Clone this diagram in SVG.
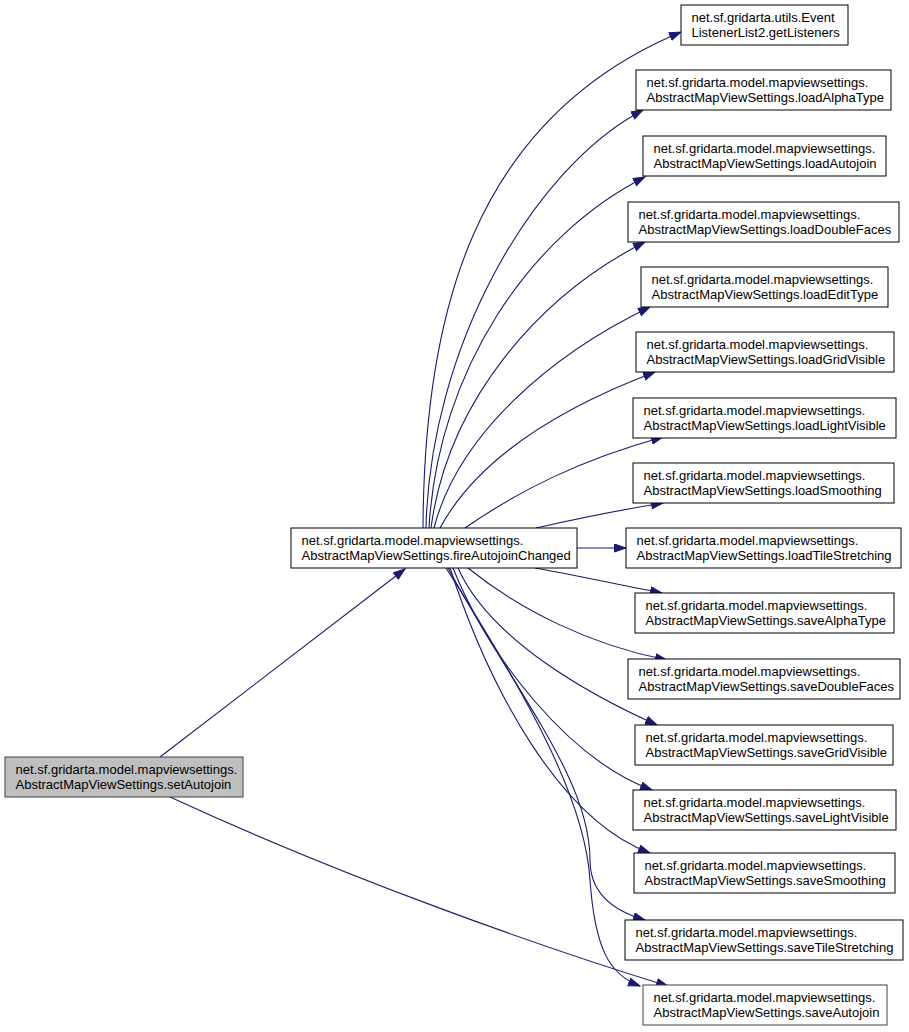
<svg xmlns="http://www.w3.org/2000/svg" width="909" height="1032" viewBox="0 0 909 1032">
<style>
.n rect{fill:#ffffff;stroke:#000000;stroke-width:1}
.n text{font-family:"Liberation Sans",Arial,Helvetica,sans-serif;font-size:13px;fill:#000000}
.root rect{fill:#bfbfbf;stroke:#404040}
.grey rect{stroke:#404040}
.e path{fill:none;stroke:#191970;stroke-width:1.1}
</style>
<defs>
<marker id="ah" markerUnits="userSpaceOnUse" markerWidth="13" markerHeight="10" refX="12" refY="4.5" orient="auto" viewBox="0 0 13 10">
<path d="M0.5,0.5 L12,4.5 L0.5,8.5 Z" fill="#191970" stroke="#191970" stroke-width="1"/>
</marker>
</defs>
<rect width="909" height="1032" fill="#ffffff"/>
<g id="connectors" class="e">
<path marker-end="url(#ah)" d="M160,757 L405,569"/>
<path marker-end="url(#ah)" d="M170,797 C350,880 550,950 668,986"/>
<path marker-end="url(#ah)" d="M423,528 C424,320 470,120 681,32"/>
<path marker-end="url(#ah)" d="M426,528 C430,350 530,170 643,110"/>
<path marker-end="url(#ah)" d="M429,528 C438,370 530,235 645,177"/>
<path marker-end="url(#ah)" d="M431,528 C448,400 540,295 645,242"/>
<path marker-end="url(#ah)" d="M434,528 C458,435 550,355 650,307"/>
<path marker-end="url(#ah)" d="M440,528 C478,458 560,408 655,372"/>
<path marker-end="url(#ah)" d="M465,528 C520,490 580,460 663,437"/>
<path marker-end="url(#ah)" d="M536,528 C580,518 620,510 663,503"/>
<path marker-end="url(#ah)" d="M577,548 L626,548"/>
<path marker-end="url(#ah)" d="M535,568 C580,576 620,585 662,593"/>
<path marker-end="url(#ah)" d="M468,568 C520,610 590,645 667,660"/>
<path marker-end="url(#ah)" d="M458,568 C490,640 590,695 657,725"/>
<path marker-end="url(#ah)" d="M453,568 C490,660 570,760 652,790"/>
<path marker-end="url(#ah)" d="M450,568 C490,690 560,820 650,853"/>
<path marker-end="url(#ah)" d="M448,568 C520,700 590,780 590,860 C590,890 610,910 645,920"/>
<path marker-end="url(#ah)" d="M446,568 C530,700 585,800 590,880 C595,950 610,975 640,986"/>
</g>
<g id="setAutojoin" class="n root"><rect x="5" y="757" width="238" height="40"/><text x="15.5" y="774">net.sf.gridarta.model.mapviewsettings.</text><text x="15.5" y="788.5">AbstractMapViewSettings.setAutojoin</text></g>
<g id="fireAutojoinChanged" class="n"><rect x="291" y="528" width="286" height="40"/><text x="301.5" y="545">net.sf.gridarta.model.mapviewsettings.</text><text x="301.5" y="559.5">AbstractMapViewSettings.fireAutojoinChanged</text></g>
<g id="getListeners" class="n"><rect x="681" y="5" width="167" height="40"/><text x="691.5" y="22">net.sf.gridarta.utils.Event</text><text x="691.5" y="36.5">ListenerList2.getListeners</text></g>
<g id="loadAlphaType" class="n"><rect x="636" y="70" width="255" height="40"/><text x="646.5" y="87">net.sf.gridarta.model.mapviewsettings.</text><text x="646.5" y="101.5">AbstractMapViewSettings.loadAlphaType</text></g>
<g id="loadAutojoin" class="n"><rect x="643" y="136" width="243" height="40"/><text x="653.5" y="153">net.sf.gridarta.model.mapviewsettings.</text><text x="653.5" y="167.5">AbstractMapViewSettings.loadAutojoin</text></g>
<g id="loadDoubleFaces" class="n"><rect x="628" y="202" width="271" height="40"/><text x="638.5" y="219">net.sf.gridarta.model.mapviewsettings.</text><text x="638.5" y="233.5">AbstractMapViewSettings.loadDoubleFaces</text></g>
<g id="loadEditType" class="n"><rect x="641" y="267" width="247" height="40"/><text x="651.5" y="284">net.sf.gridarta.model.mapviewsettings.</text><text x="651.5" y="298.5">AbstractMapViewSettings.loadEditType</text></g>
<g id="loadGridVisible" class="n"><rect x="636" y="332" width="258" height="40"/><text x="646.5" y="349">net.sf.gridarta.model.mapviewsettings.</text><text x="646.5" y="363.5">AbstractMapViewSettings.loadGridVisible</text></g>
<g id="loadLightVisible" class="n"><rect x="633" y="398" width="263" height="40"/><text x="643.5" y="415">net.sf.gridarta.model.mapviewsettings.</text><text x="643.5" y="429.5">AbstractMapViewSettings.loadLightVisible</text></g>
<g id="loadSmoothing" class="n"><rect x="633" y="463" width="261" height="40"/><text x="643.5" y="480">net.sf.gridarta.model.mapviewsettings.</text><text x="643.5" y="494.5">AbstractMapViewSettings.loadSmoothing</text></g>
<g id="loadTileStretching" class="n"><rect x="626" y="528" width="275" height="40"/><text x="636.5" y="545">net.sf.gridarta.model.mapviewsettings.</text><text x="636.5" y="559.5">AbstractMapViewSettings.loadTileStretching</text></g>
<g id="saveAlphaType" class="n"><rect x="635" y="593" width="259" height="40"/><text x="645.5" y="610">net.sf.gridarta.model.mapviewsettings.</text><text x="645.5" y="624.5">AbstractMapViewSettings.saveAlphaType</text></g>
<g id="saveDoubleFaces" class="n"><rect x="628" y="659" width="272" height="40"/><text x="638.5" y="676">net.sf.gridarta.model.mapviewsettings.</text><text x="638.5" y="690.5">AbstractMapViewSettings.saveDoubleFaces</text></g>
<g id="saveGridVisible" class="n"><rect x="635" y="725" width="258" height="40"/><text x="645.5" y="742">net.sf.gridarta.model.mapviewsettings.</text><text x="645.5" y="756.5">AbstractMapViewSettings.saveGridVisible</text></g>
<g id="saveLightVisible" class="n"><rect x="633" y="790" width="263" height="40"/><text x="643.5" y="807">net.sf.gridarta.model.mapviewsettings.</text><text x="643.5" y="821.5">AbstractMapViewSettings.saveLightVisible</text></g>
<g id="saveSmoothing" class="n"><rect x="634" y="853" width="261" height="40"/><text x="644.5" y="870">net.sf.gridarta.model.mapviewsettings.</text><text x="644.5" y="884.5">AbstractMapViewSettings.saveSmoothing</text></g>
<g id="saveTileStretching" class="n"><rect x="625" y="920" width="278" height="40"/><text x="635.5" y="937">net.sf.gridarta.model.mapviewsettings.</text><text x="635.5" y="951.5">AbstractMapViewSettings.saveTileStretching</text></g>
<g id="saveAutojoin" class="n grey"><rect x="643" y="985" width="244" height="40"/><text x="653.5" y="1002">net.sf.gridarta.model.mapviewsettings.</text><text x="653.5" y="1016.5">AbstractMapViewSettings.saveAutojoin</text></g>
</svg>
